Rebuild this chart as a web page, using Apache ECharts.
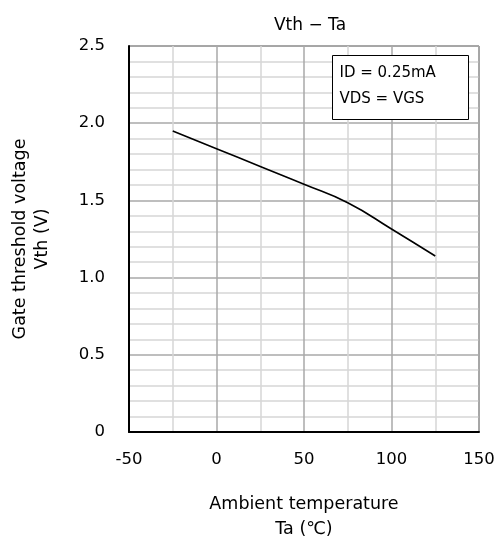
<!DOCTYPE html>
<html>
<head>
<meta charset="utf-8">
<script src="https://cdn.jsdelivr.net/npm/echarts@6/dist/echarts.min.js"></script>
<style>
  html, body { margin: 0; padding: 0; background: #fff; }
  #chart { width: 496px; height: 539px; }
</style>
</head>
<body>
<div id="chart"></div>
<script>
// curve values
const temps = [-25, 0, 25, 50, 75, 100, 125]
const vth = [1.95, 1.835, 1.72, 1.605, 1.485, 1.315, 1.14]
const noteLines = ['ID = 0.25mA', 'VDS = VGS']

const FONT = '"DejaVu Sans", "Noto Sans CJK JP", sans-serif'

const chart = echarts.init(document.getElementById('chart'), null, { renderer: 'canvas' })

chart.setOption({
  animation: false,
  backgroundColor: '#fff',
  title: {
    text: 'Vth − Ta',
    left: 305,
    textAlign: 'center',
    top: 12,
    textStyle: { fontFamily: FONT, fontSize: 17, fontWeight: 'normal', color: '#000' }
  },
  grid: {
    left: 129, right: 17, top: 46, bottom: 107,
    outerBoundsMode: 'none',
    containLabel: false,
    show: true, borderColor: '#444', borderWidth: 1, backgroundColor: 'transparent'
  },
  xAxis: {
    type: 'value',
    min: -50, max: 150, interval: 50,
    name: 'Ambient temperature\nTa (℃)',
    nameLocation: 'middle',
    nameGap: 60,
    nameTextStyle: { fontFamily: FONT, fontSize: 17.5, color: '#000', lineHeight: 25 },
    axisLine: { show: true, onZero: false, lineStyle: { color: '#000', width: 2 } },
    axisTick: { show: false },
    axisLabel: { fontFamily: FONT, fontSize: 16.5, color: '#000', margin: 19 },
    splitLine: { show: true, lineStyle: { color: '#a8a8a8', width: 1.5 } },
    minorTick: { show: false, splitNumber: 2 },
    minorSplitLine: { show: true, lineStyle: { color: '#d6d6d6', width: 1.5 } }
  },
  yAxis: {
    type: 'value',
    min: 0, max: 2.5, interval: 0.5,
    name: 'Gate threshold voltage\nVth (V)',
    nameLocation: 'middle',
    nameGap: 76,
    nameRotate: 90,
    nameTextStyle: { fontFamily: FONT, fontSize: 17.5, color: '#000', lineHeight: 22 },
    axisLine: { show: true, onZero: false, lineStyle: { color: '#000', width: 2 } },
    axisTick: { show: false },
    axisLabel: {
      fontFamily: FONT, fontSize: 16.5, color: '#000', margin: 24,
      formatter: v => (v === 0 ? '0' : v.toFixed(1))
    },
    splitLine: { show: true, lineStyle: { color: '#a8a8a8', width: 1.5 } },
    minorTick: { show: false, splitNumber: 5 },
    minorSplitLine: { show: true, lineStyle: { color: '#d6d6d6', width: 1.5 } }
  },
  graphic: [{
    type: 'group',
    left: 332, top: 55,
    z: 100,
    children: [
      {
        type: 'rect',
        z: 100,
        shape: { x: 0, y: 0, width: 136, height: 64 },
        style: { fill: '#fff', stroke: '#000', lineWidth: 1 }
      },
      {
        type: 'text',
        z: 101,
        x: 7, y: 18,
        style: { text: noteLines[0], font: '15px ' + FONT, fill: '#000', verticalAlign: 'middle' }
      },
      {
        type: 'text',
        z: 101,
        x: 7, y: 44,
        style: { text: noteLines[1], font: '15px ' + FONT, fill: '#000', verticalAlign: 'middle' }
      }
    ]
  }],
  series: [{
    type: 'line',
    data: temps.map((t, i) => [t, vth[i]]),
    smooth: 0.5,
    symbol: 'none',
    lineStyle: { color: '#000', width: 1.6 },
    z: 5
  }]
})
</script>
</body>
</html>
